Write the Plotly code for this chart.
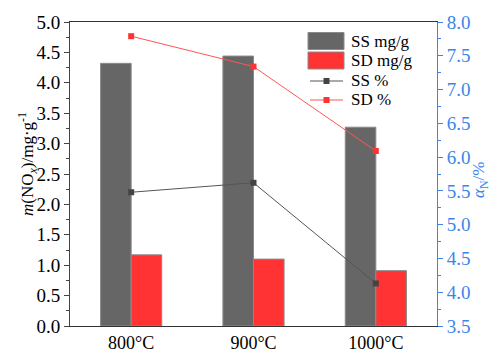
import plotly.graph_objects as go

# Temperatures and measured values
temperatures = ["800°C", "900°C", "1000°C"]
ss_mg_g = [4.32, 4.44, 3.27]
sd_mg_g = [1.17, 1.10, 0.91]
ss_pct = [5.48, 5.62, 4.13]
sd_pct = [7.79, 7.34, 6.09]

SERIF = "Liberation Serif"
BLUE = "#3a86e8"
GRAY = "#666666"
RED = "#ff3333"

fig = go.Figure()

fig.add_trace(go.Bar(
    x=temperatures, y=ss_mg_g, name="SS mg/g",
    marker=dict(color=GRAY, line=dict(color="#8a8a8a", width=1)),
))
fig.add_trace(go.Bar(
    x=temperatures, y=sd_mg_g, name="SD mg/g",
    marker=dict(color=RED, line=dict(color="#8a8a8a", width=1)),
))
fig.add_trace(go.Scatter(
    x=temperatures, y=ss_pct, name="SS %", yaxis="y2", mode="lines+markers",
    line=dict(color="#555555", width=1),
    marker=dict(symbol="square", size=6, color="#444444"),
))
fig.add_trace(go.Scatter(
    x=temperatures, y=sd_pct, name="SD %", yaxis="y2", mode="lines+markers",
    line=dict(color="#ff5555", width=1),
    marker=dict(symbol="square", size=6, color=RED),
))

shapes = []
annotations = []
W, H = 492, 353
L, R, T, B = 70, 55, 22, 27
pw, ph = W - L - R, H - T - B


def px(x):
    return (x - L) / pw


def py(y):
    return 1 - (y - T) / ph


# Legend block with large colour patches
legend_rows = [("SS mg/g", "patch", GRAY, 41),
               ("SD mg/g", "patch", RED, 60.5),
               ("SS %", "line", "#444444", 81),
               ("SD %", "line", RED, 100)]
for label, kind, col, yc in legend_rows:
    if kind == "patch":
        shapes.append(dict(type="rect", xref="paper", yref="paper",
                           x0=px(308), x1=px(344), y0=py(yc + 8.5), y1=py(yc - 8.5),
                           fillcolor=col, line=dict(color="#8a8a8a", width=1)))
    else:
        lc = "#555555" if col != RED else "#ff5555"
        shapes.append(dict(type="line", xref="paper", yref="paper",
                           x0=px(310), x1=px(343), y0=py(yc), y1=py(yc),
                           line=dict(color=lc, width=1)))
        shapes.append(dict(type="rect", xref="paper", yref="paper",
                           x0=px(323.5), x1=px(329.5), y0=py(yc + 3), y1=py(yc - 3),
                           fillcolor=col, line=dict(width=0)))
    annotations.append(dict(xref="paper", yref="paper", x=px(349), y=py(yc),
                            xanchor="left", yanchor="middle", showarrow=False,
                            text=label, font=dict(family=SERIF, size=17, color="black")))

# Axis titles
annotations.append(dict(xref="paper", yref="paper", x=px(27), y=py(164),
                        xanchor="center", yanchor="middle", showarrow=False, textangle=-90,
                        text="<i>m</i>(NO<sub><i>x</i></sub>)/mg·g<sup>-1</sup>",
                        font=dict(family=SERIF, size=17, color="black")))
annotations.append(dict(xref="paper", yref="paper", x=px(480), y=py(180),
                        xanchor="center", yanchor="middle", showarrow=False, textangle=-90,
                        text="<i>α</i><sub>N</sub>/%",
                        font=dict(family=SERIF, size=17, color=BLUE)))

fig.update_layout(
    width=W, height=H,
    margin=dict(l=L, r=R, t=T, b=B, autoexpand=False),
    paper_bgcolor="white", plot_bgcolor="white",
    barmode="group", bargap=0.5, bargroupgap=0,
    showlegend=False,
    font=dict(family=SERIF, color="black"),
    shapes=shapes, annotations=annotations,
    xaxis=dict(
        range=[-0.5, 2.5],
        showline=True, linecolor="#333333", linewidth=1, mirror=True,
        ticks="", ticklen=0, showgrid=False,
        tickfont=dict(family=SERIF, size=18, color="black"),
    ),
    yaxis=dict(
        range=[0, 5], dtick=0.5, tickformat=".1f",
        showline=True, linecolor="#444444", linewidth=1,
        ticks="outside", ticklen=5, tickcolor="#444444",
        minor=dict(ticks="outside", ticklen=3, dtick=0.25, tickcolor="#444444"),
        showgrid=False, zeroline=False,
        tickfont=dict(family=SERIF, size=19, color="black"),
    ),
    yaxis2=dict(
        overlaying="y", side="right",
        range=[3.5, 8.0], dtick=0.5, tickformat=".1f",
        showline=True, linecolor=BLUE, linewidth=1,
        ticks="outside", ticklen=5, tickcolor=BLUE,
        minor=dict(ticks="outside", ticklen=3, dtick=0.25, tickcolor=BLUE),
        showgrid=False, zeroline=False,
        tickfont=dict(family=SERIF, size=19, color=BLUE),
    ),
)

fig.write_html("out.html")
